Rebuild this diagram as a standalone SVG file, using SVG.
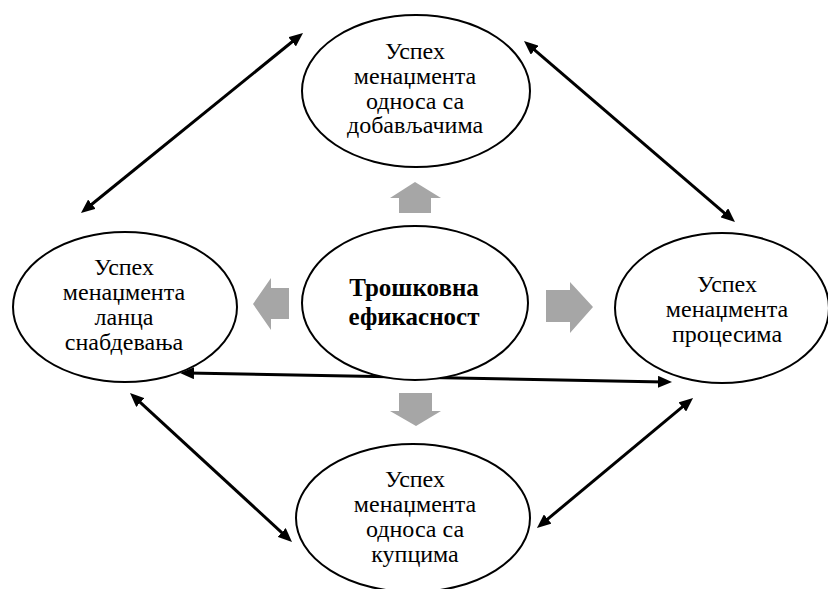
<svg xmlns="http://www.w3.org/2000/svg" width="828" height="589" viewBox="0 0 828 589">
  <style>
    .node ellipse { fill: #ffffff; stroke: #000000; stroke-width: 2; }
    .label { font-family: "Liberation Serif", "Times New Roman", serif; font-size: 24px; fill: #000000; text-anchor: middle; }
    .bold { font-weight: bold; font-size: 25px; }
    .link { stroke: #000000; stroke-width: 3; fill: none; marker-start: url(#head); marker-end: url(#head); }
    .block { fill: #a6a6a6; }
  </style>
  <defs>
    <marker id="head" markerUnits="userSpaceOnUse" markerWidth="14" markerHeight="12" refX="6" refY="6" orient="auto-start-reverse">
      <path d="M0,0 L14,6 L0,12 z" fill="#000000"/>
    </marker>
  </defs>

  <!-- connectors between the outer nodes -->
  <g id="connectors">
    <line class="link" x1="87.2" y1="208" x2="296.8" y2="38"/>
    <line class="link" x1="530.1" y1="46.2" x2="728.9" y2="216.8"/>
    <line class="link" x1="188" y1="373.1" x2="664" y2="381.9"/>
    <line class="link" x1="135.9" y1="398.4" x2="286.1" y2="536.6"/>
    <line class="link" x1="686.9" y1="403.1" x2="543.1" y2="522.9"/>
  </g>

  <!-- grey block arrows radiating from the centre -->
  <g id="block-arrows">
    <polygon class="block" points="415,182 441,198 431,198 431,213 399,213 399,198 390,198"/>
    <polygon class="block" points="253,304 271,278 271,288 289,288 289,319 271,319 271,330"/>
    <polygon class="block" points="593,307 570,282 570,290 546,290 546,322 570,322 570,333"/>
    <polygon class="block" points="416,426 441,411 432,411 432,393 399,393 399,411 390,411"/>
  </g>

  <g id="node-suppliers" class="node">
    <ellipse cx="416" cy="91" rx="114" ry="76"/>
    <text class="label" x="415" y="59">Успех</text>
    <text class="label" x="415" y="84">менаџмента</text>
    <text class="label" x="415" y="109">односа са</text>
    <text class="label" x="415" y="133">добављачима</text>
  </g>

  <g id="node-cost" class="node">
    <ellipse cx="415" cy="303" rx="113" ry="77"/>
    <text class="label bold" x="414" y="296">Трошковна</text>
    <text class="label bold" x="414" y="325">ефикасност</text>
  </g>

  <g id="node-supply-chain" class="node">
    <ellipse cx="125" cy="307" rx="112" ry="75"/>
    <text class="label" x="124" y="275">Успех</text>
    <text class="label" x="124" y="300">менаџмента</text>
    <text class="label" x="124" y="325">ланца</text>
    <text class="label" x="124" y="350">снабдевања</text>
  </g>

  <g id="node-processes" class="node">
    <ellipse cx="722" cy="308" rx="107" ry="75"/>
    <text class="label" x="727" y="292">Успех</text>
    <text class="label" x="727" y="317">менаџмента</text>
    <text class="label" x="727" y="342">процесима</text>
  </g>

  <g id="node-customers" class="node">
    <ellipse cx="413" cy="518" rx="117" ry="74"/>
    <text class="label" x="415" y="487">Успех</text>
    <text class="label" x="415" y="512">менаџмента</text>
    <text class="label" x="415" y="537">односа са</text>
    <text class="label" x="415" y="562">купцима</text>
  </g>
</svg>
